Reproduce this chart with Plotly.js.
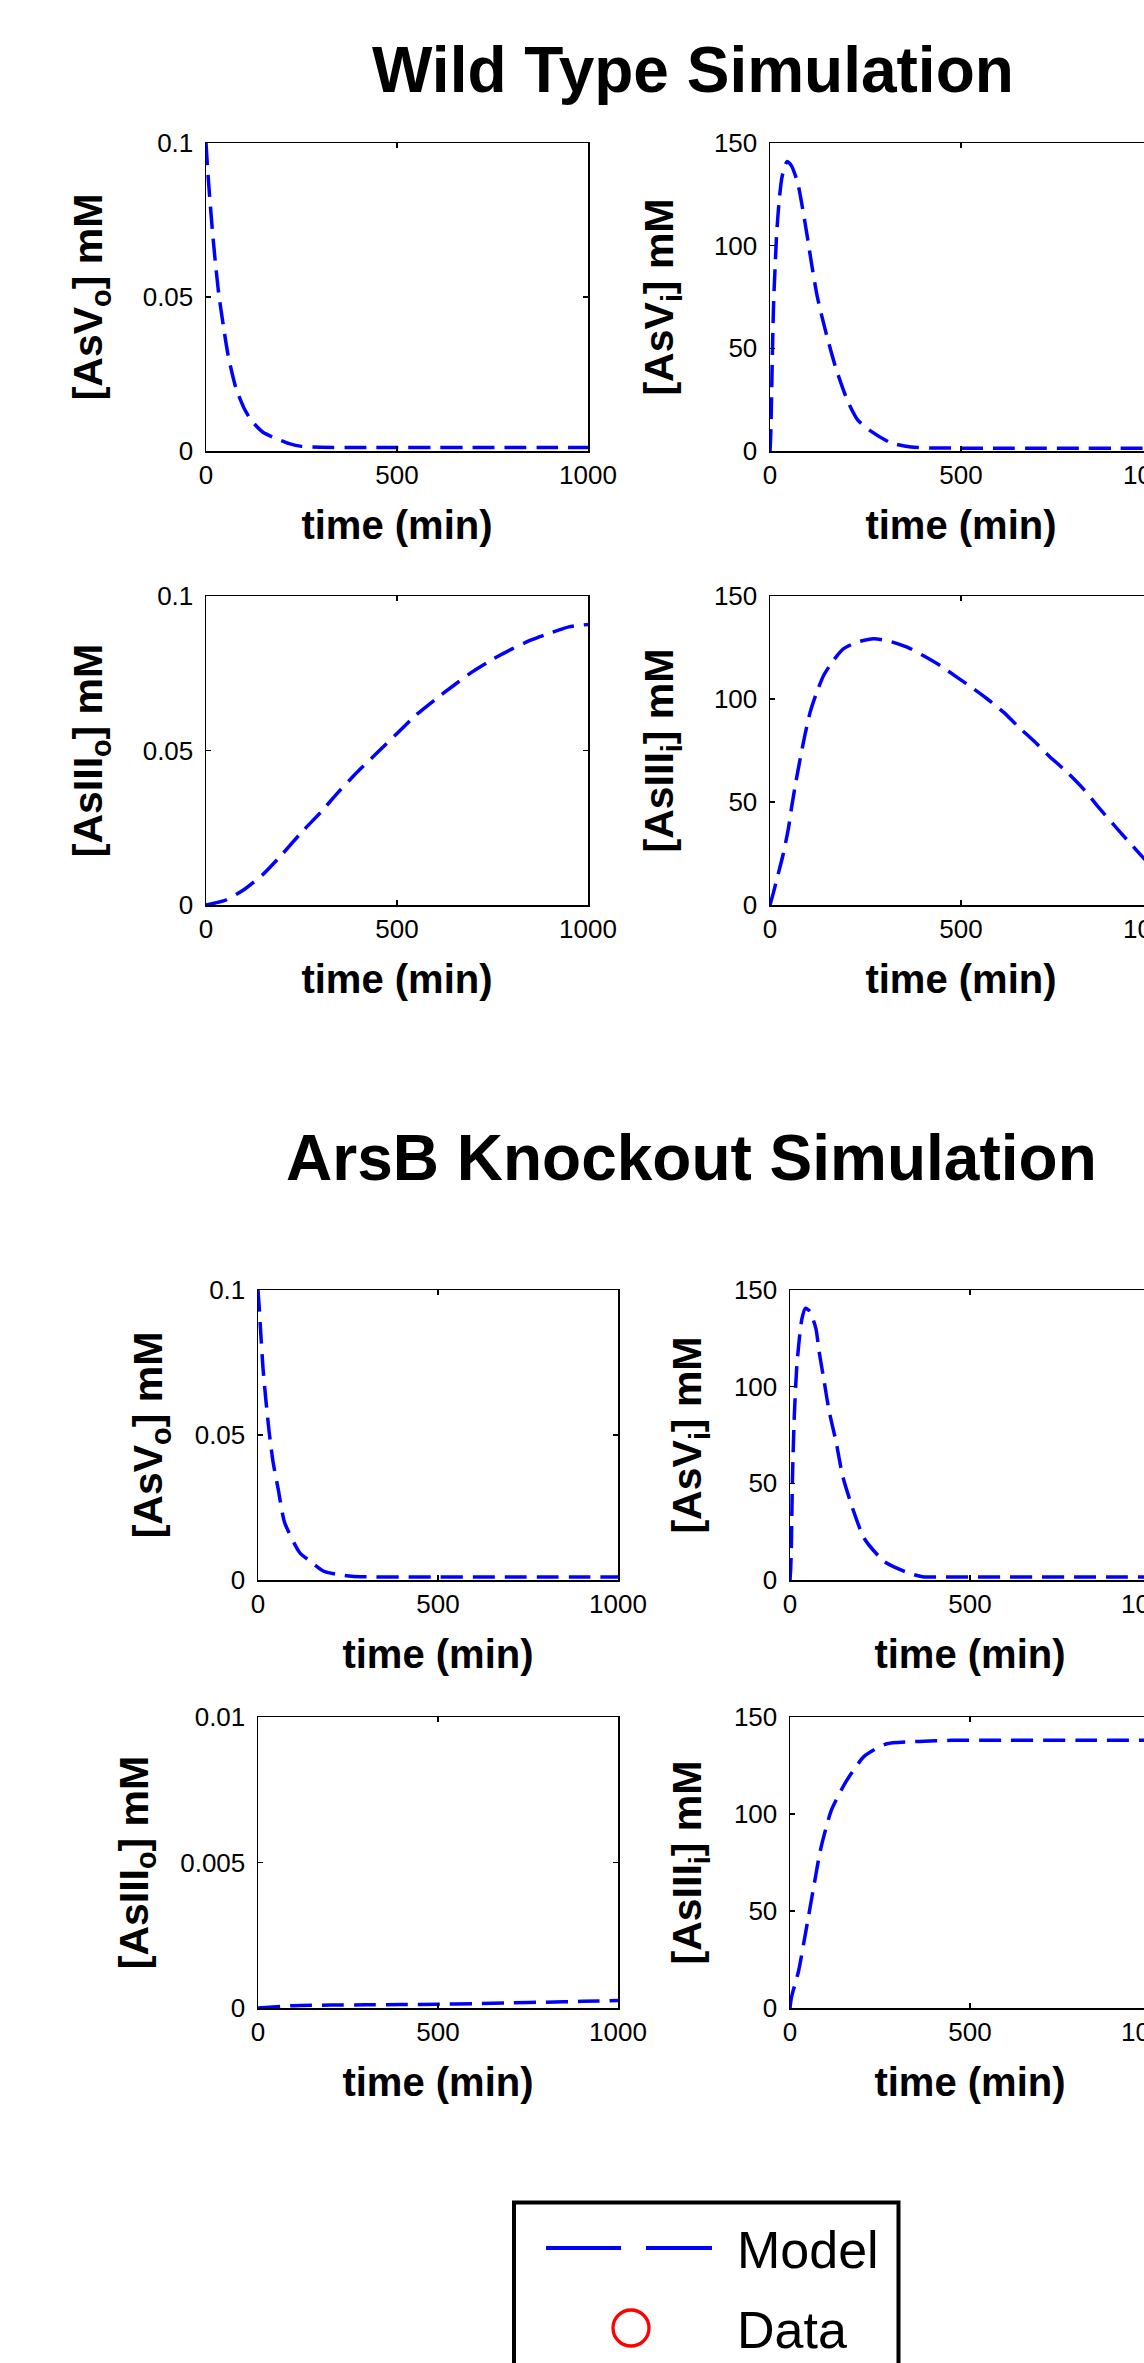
<!DOCTYPE html>
<html>
<head>
<meta charset="utf-8">
<script src="https://cdn.plot.ly/plotly-3.0.1.min.js"></script>
<style>
  html, body { margin: 0; padding: 0; overflow: hidden; background: #ffffff; }
</style>
</head>
<body>
<div id="fig"></div>
<script>
// ---- Wild type simulation: time (min) and concentrations (mM) ----
const wtAsVoTime = [0, 4, 9, 17, 24, 33, 45, 58, 78, 100, 120, 150, 189, 218, 250, 300, 400, 500, 600, 700, 800, 900, 1000];
const wtAsVoConc = [0.1, 0.092, 0.0835, 0.0712, 0.0619, 0.0514, 0.041, 0.031, 0.0206, 0.0138, 0.0097, 0.006, 0.0038, 0.0024, 0.0015, 0.0012, 0.0011, 0.0011, 0.0011, 0.0011, 0.0011, 0.0011, 0.0011];

const wtAsViTime = [0, 2, 4, 6, 8, 10, 13, 17.5, 24.5, 31, 39, 45, 56, 72, 85, 98, 109, 124, 146, 172, 203, 230, 264, 316, 369, 420, 500, 600, 700, 800, 900, 1000];
const wtAsViConc = [0, 8, 25, 45, 62, 75, 88, 106, 123, 133, 139, 141, 139, 131, 118.5, 104, 91, 75, 58, 40.6, 24.4, 15, 9.7, 4, 2, 1.5, 1.4, 1.4, 1.4, 1.4, 1.4, 1.4];

const wtAsIIIoTime = [0, 50, 100, 150, 200, 250, 300, 350, 400, 450, 500, 550, 600, 650, 700, 750, 800, 850, 900, 950, 1000];
const wtAsIIIoConc = [0, 0.0015, 0.005, 0.01, 0.0165, 0.0235, 0.03, 0.037, 0.0435, 0.0495, 0.0555, 0.0615, 0.0665, 0.0712, 0.0757, 0.0795, 0.0828, 0.0857, 0.088, 0.09, 0.0908];

const wtAsIIIiTime = [0, 9, 20, 35, 48, 57, 68, 79, 92, 105, 120, 140, 165, 192, 228, 271, 306, 359, 402, 446, 490, 534, 569, 612, 648, 691, 726, 779, 822, 858, 919, 982, 1000];
const wtAsIIIiConc = [0, 6, 14, 25, 37, 48, 60, 71, 83, 93.5, 102, 111.3, 118.5, 124.3, 127.6, 129.2, 128.4, 125.2, 121, 116.2, 110.5, 104.8, 100, 93.5, 86.9, 79.6, 73.1, 64.2, 56, 47.9, 34.9, 21.9, 18.2];

// ---- ArsB knockout simulation: time (min) and concentrations (mM) ----
const koAsVoTime = [0, 4, 7, 14, 22, 31, 42, 56, 74, 116, 144, 181, 218, 260, 300, 400, 500, 600, 700, 800, 900, 1000];
const koAsVoConc = [0.1, 0.093, 0.0865, 0.0729, 0.0619, 0.051, 0.0406, 0.0314, 0.0198, 0.0094, 0.0066, 0.0031, 0.002, 0.0013, 0.0011, 0.001, 0.001, 0.001, 0.001, 0.001, 0.001, 0.001];

const koAsViTime = [0, 2, 3.6, 7, 12, 18.5, 26, 33, 42.5, 55, 72, 81, 95, 109, 128, 146, 174, 206, 262, 331, 368, 420, 500, 600, 700, 800, 900, 1000];
const koAsViConc = [0, 6, 16, 54, 85, 109.5, 125, 135, 140.5, 139, 130, 118, 102.6, 87, 71.5, 54, 37, 21.6, 9.5, 3.5, 1.7, 1.5, 1.5, 1.5, 1.5, 1.5, 1.5, 1.5];

const koAsIIIoTime = [0, 100, 200, 300, 400, 500, 600, 700, 800, 900, 1000];
const koAsIIIoConc = [0, 0.00008, 0.0001, 0.00011, 0.00012, 0.00013, 0.00015, 0.00018, 0.0002, 0.00023, 0.00026];

const koAsIIIiTime = [0, 4, 24, 44, 65, 85, 115, 156, 206, 267, 358, 450, 600, 800, 1000];
const koAsIIIiConc = [0, 5.4, 19.2, 39.5, 61.5, 81.8, 102, 116.8, 129.7, 136.1, 137.4, 138, 138, 138, 138];

// ---- axis labels and ticks ----
const timeTicks = [0, 500, 1000];
const timeLabel = 'time (min)';
const yLabels = {
  AsVo: '[AsV<sub>o</sub>] mM',
  AsVi: '[AsV<sub>i</sub>] mM',
  AsIIIo: '[AsIII<sub>o</sub>] mM',
  AsIIIi: '[AsIII<sub>i</sub>] mM'
};
const sectionTitles = ['Wild Type Simulation', 'ArsB Knockout Simulation'];
const legendNames = ['Model', 'Data'];

// ---- page geometry (pixels) ----
const FIG_W = 1200, FIG_H = 2363;
const fx = (x) => x / FIG_W;
const fy = (y) => 1 - y / FIG_H;
const FONT = 'Liberation Sans, Arial, Helvetica, sans-serif';

// each panel: series, label, y range, box [left, right, top, bottom] in px, y-title gap
const panels = [
  { t: wtAsVoTime,   v: wtAsVoConc,   label: yLabels.AsVo,   yMax: 0.1,  dtick: 0.05,  box: [206, 588, 143, 451],   gap: 27 },
  { t: wtAsViTime,   v: wtAsViConc,   label: yLabels.AsVi,   yMax: 150,  dtick: 50,    box: [770, 1152, 143, 451],  gap: 27 },
  { t: wtAsIIIoTime, v: wtAsIIIoConc, label: yLabels.AsIIIo, yMax: 0.1,  dtick: 0.05,  box: [206, 588, 596, 905],   gap: 27 },
  { t: wtAsIIIiTime, v: wtAsIIIiConc, label: yLabels.AsIIIi, yMax: 150,  dtick: 50,    box: [770, 1152, 596, 905],  gap: 27 },
  { t: koAsVoTime,   v: koAsVoConc,   label: yLabels.AsVo,   yMax: 0.1,  dtick: 0.05,  box: [258, 618, 1290, 1580], gap: 19 },
  { t: koAsViTime,   v: koAsViConc,   label: yLabels.AsVi,   yMax: 150,  dtick: 50,    box: [790, 1150, 1290, 1580], gap: 19 },
  { t: koAsIIIoTime, v: koAsIIIoConc, label: yLabels.AsIIIo, yMax: 0.01, dtick: 0.005, box: [258, 618, 1717, 2008], gap: 19 },
  { t: koAsIIIiTime, v: koAsIIIiConc, label: yLabels.AsIIIi, yMax: 150,  dtick: 50,    box: [790, 1150, 1717, 2008], gap: 19 }
];

const MODEL_COLOR = '#0000ff';
const DATA_COLOR = '#ff0000';

const traces = [];
const layout = {
  width: FIG_W,
  height: FIG_H,
  margin: { l: 0, r: 0, t: 0, b: 0 },
  paper_bgcolor: '#ffffff',
  plot_bgcolor: '#ffffff',
  showlegend: false,
  font: { family: FONT, color: '#000000' },
  annotations: [],
  shapes: []
};

const axisCommon = {
  showline: true,
  linecolor: '#000000',
  linewidth: 1.5,
  mirror: 'ticks',
  ticks: 'inside',
  ticklen: 5,
  tickwidth: 1.5,
  tickcolor: '#000000',
  showgrid: false,
  zeroline: false,
  fixedrange: true,
  tickfont: { family: FONT, size: 26, color: '#000000' }
};

panels.forEach((p, i) => {
  const n = i === 0 ? '' : String(i + 1);
  traces.push({
    type: 'scatter',
    mode: 'lines',
    name: legendNames[0],
    x: p.t,
    y: p.v,
    xaxis: 'x' + n,
    yaxis: 'y' + n,
    line: { color: MODEL_COLOR, width: 3.5, dash: '22px,10px', shape: 'spline', smoothing: 0.6 },
    hoverinfo: 'skip'
  });
  layout['xaxis' + n] = Object.assign({}, axisCommon, {
    domain: [fx(p.box[0]), fx(p.box[1])],
    anchor: 'y' + n,
    range: [0, 1000],
    tickvals: timeTicks,
    ticktext: timeTicks.map(String),
    ticklabelstandoff: 0,
    title: { text: '<b>' + timeLabel + '</b>', font: { family: FONT, size: 40, color: '#000000' }, standoff: 22 }
  });
  layout['yaxis' + n] = Object.assign({}, axisCommon, {
    domain: [fy(p.box[3]), fy(p.box[2])],
    anchor: 'x' + n,
    range: [0, p.yMax],
    tick0: 0,
    dtick: p.dtick,
    ticklabelstandoff: 6,
    title: { text: '<b>' + p.label + '</b>', font: { family: FONT, size: 41, color: '#000000' }, standoff: p.gap }
  });
});

// section headings
[[sectionTitles[0], 693, 70], [sectionTitles[1], 691, 1158]].forEach(([txt, x, y]) => {
  layout.annotations.push({
    text: '<b>' + txt + '</b>',
    xref: 'paper', yref: 'paper',
    x: fx(x), y: fy(y),
    xanchor: 'center', yanchor: 'middle',
    showarrow: false,
    font: { family: FONT, size: 64, color: '#000000' }
  });
});

// legend box with its two entries
layout.shapes.push({
  type: 'rect', xref: 'paper', yref: 'paper',
  x0: fx(514), x1: fx(898.5), y0: fy(2202.5), y1: fy(2420),
  line: { color: '#000000', width: 4 }, fillcolor: 'rgba(0,0,0,0)'
});
[[546, 621], [646, 712]].forEach(([a, b]) => {
  layout.shapes.push({
    type: 'line', xref: 'paper', yref: 'paper',
    x0: fx(a), x1: fx(b), y0: fy(2248), y1: fy(2248),
    line: { color: MODEL_COLOR, width: 4 }
  });
});
layout.shapes.push({
  type: 'circle', xref: 'paper', yref: 'paper',
  x0: fx(613), x1: fx(649), y0: fy(2310), y1: fy(2346),
  line: { color: DATA_COLOR, width: 3.3 }
});
[[legendNames[0], 2250], [legendNames[1], 2330]].forEach(([txt, y]) => {
  layout.annotations.push({
    text: txt,
    xref: 'paper', yref: 'paper',
    x: fx(735), y: fy(y),
    xanchor: 'left', yanchor: 'middle',
    showarrow: false,
    font: { family: FONT, size: 52, color: '#000000' }
  });
});

Plotly.newPlot('fig', traces, layout, { staticPlot: true, displayModeBar: false });
</script>
</body>
</html>
